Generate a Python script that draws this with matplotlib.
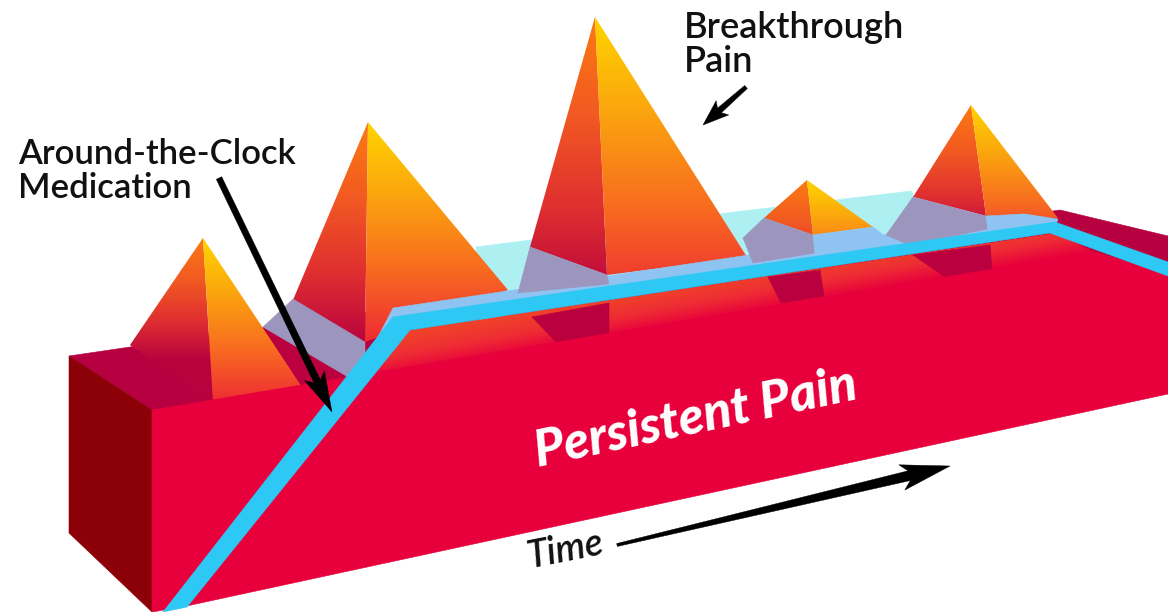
import numpy as np
import matplotlib
matplotlib.use("Agg")
import matplotlib.pyplot as plt
from matplotlib.colors import LinearSegmentedColormap
from matplotlib.patches import Polygon

W, H = 1168, 612

# box faces
side_face = [(69, 356), (152, 410), (152, 612), (69, 533)]
top_face = [(69, 356), (1060, 210), (1168, 236), (1168, 300), (152, 410)]
front_face = [(152, 410), (1095, 252), (1168, 274), (1168, 394), (182, 607), (152, 612)]

# medication surface
back_plane = [(476, 247), (530, 240), (726, 213), (911, 191), (930, 225), (480, 320)]
band_strip = [(362, 368), (393, 308), (1024, 214), (1058, 219), (1056, 224), (393, 318)]
band_line = [(163, 612), (393, 317), (1055, 222), (1168, 262), (1168, 276),
             (1050, 233), (410, 330), (187, 607)]
under_band = [(410, 330), (1055, 233), (1095, 252), (345, 378)]

lavender = [
    [(263, 327), (293, 299), (365, 342), (365, 357), (348, 377)],
    [(530, 247), (607, 275), (609, 284), (518, 293)],
    [(764, 218), (743, 238), (753, 263), (815, 253), (813, 235)],
    [(913, 197), (886, 235), (909, 245), (988, 229), (986, 216)],
]
pale_blue = [
    [(813, 235), (873, 227), (894, 243), (815, 255)],
    [(986, 216), (1024, 214), (1058, 220), (988, 230)],
]
shadow = [
    [(263, 327), (348, 377), (337, 385), (303, 388)],
    [(532, 317), (557, 343), (609, 333), (609, 303)],
    [(768, 277), (781, 303), (824, 296), (820, 270)],
    [(913, 255), (945, 277), (992, 269), (990, 245)],
]

# pyramids: apex, left corner, bottom of the ridge, right corner
apexes = [(203, 238), (368, 122), (595, 17), (807, 180), (971, 105)]
left_corners = [(130, 345), (293, 300), (530, 247), (764, 218), (913, 197)]
ridge_bottoms = [(213, 402), (365, 342), (607, 275), (813, 235), (986, 216)]
right_corners = [(303, 388), (508, 290), (747, 257), (873, 227), (1058, 218)]
# y where each face's colour ramp runs out
left_ends = [360, 345, 300, 300, 240]
right_ends = [402, 340, 300, 290, 250]

left_stops = ["#fb7a12", "#f25a22", "#e03030", "#b8023e"]
right_stops = ["#ffd400", "#fba50e", "#f86c20", "#ee2c34"]
under_stops = ["#f0402a", "#ee2c34", "#e8023c"]

text_color = "#111111"


def gradient_poly(ax, pts, stops, p0, p1, zorder):
    # linear gradient from p0 to p1, clipped to the polygon
    pts = np.array(pts, dtype=float)
    x0, y0 = np.floor(pts.min(axis=0))
    x1, y1 = np.ceil(pts.max(axis=0))
    xx, yy = np.meshgrid(np.arange(x0, x1 + 1), np.arange(y0, y1 + 1))
    dx, dy = p1[0] - p0[0], p1[1] - p0[1]
    t = ((xx - p0[0]) * dx + (yy - p0[1]) * dy) / (dx * dx + dy * dy)
    cmap = LinearSegmentedColormap.from_list("g", stops)
    im = ax.imshow(np.clip(t, 0, 1), cmap=cmap, vmin=0, vmax=1, extent=(x0, x1 + 1, y1 + 1, y0),
                   aspect="auto", zorder=zorder, interpolation="bilinear")
    patch = Polygon(pts, closed=True, transform=ax.transData, fc="none", ec="none")
    ax.add_patch(patch)
    im.set_clip_path(patch)


def flat_poly(ax, pts, color, zorder):
    ax.add_patch(Polygon(pts, closed=True, fc=color, ec=color, lw=0.4, zorder=zorder))


def tapered_arrow(ax, start, end, w0, w1, head_w, head_l, zorder=20):
    start, end = np.array(start, float), np.array(end, float)
    d = (end - start) / np.linalg.norm(end - start)
    n = np.array([-d[1], d[0]])
    neck = end - d * head_l
    pts = [start + n * w0 / 2, neck + n * w1 / 2, neck - d * head_l * 0.18 + n * head_w / 2, end,
           neck - d * head_l * 0.18 - n * head_w / 2, neck - n * w1 / 2, start - n * w0 / 2]
    ax.add_patch(Polygon(pts, closed=True, fc="black", ec="black", lw=0.3, zorder=zorder))


fig = plt.figure(figsize=(W / 100, H / 100), dpi=100)
ax = fig.add_axes([0, 0, 1, 1])

flat_poly(ax, top_face, "#b60040", 1)
flat_poly(ax, back_plane, "#aef0f2", 2)

for i in range(len(apexes)):
    a, l, r, c = apexes[i], left_corners[i], ridge_bottoms[i], right_corners[i]
    gradient_poly(ax, [a, l, r], left_stops, a, (a[0], left_ends[i]), 3)
    gradient_poly(ax, [a, r, c], right_stops, a, (a[0], right_ends[i]), 3)

gradient_poly(ax, under_band, under_stops, (702, 284), (708, 318), 4)
for s in shadow:
    flat_poly(ax, s, "#ba003e", 5)
flat_poly(ax, band_strip, "#8fc4f2", 6)
for p in lavender:
    flat_poly(ax, p, "#9c96be", 7)
for p in pale_blue:
    flat_poly(ax, p, "#8fc4f2", 7)

flat_poly(ax, side_face, "#8c0008", 8)
flat_poly(ax, front_face, "#e8003c", 8)
flat_poly(ax, band_line, "#2ec8f4", 9)

ax.text(18, 164, "Around-the-Clock", fontsize=25, family="Lato", weight="semibold", color=text_color, zorder=21)
ax.text(18, 198, "Medication", fontsize=25, family="Lato", weight="semibold", color=text_color, zorder=21)
ax.text(684, 38, "Breakthrough", fontsize=26, family="Lato", weight="semibold", color=text_color, zorder=21)
ax.text(684, 72, "Pain", fontsize=26, family="Lato", weight="semibold", color=text_color, zorder=21)
ax.text(538, 467, "Persistent Pain", fontsize=37, family="Lato", weight="black", style="italic", color="white",
        rotation=12, rotation_mode="anchor", zorder=21)
ax.text(530, 568, "Time", fontsize=27, family="Lato", style="italic", weight="semibold", color=text_color,
        rotation=11, rotation_mode="anchor", zorder=21)

tapered_arrow(ax, (219, 178), (332, 412), 6, 7, 22, 34)
tapered_arrow(ax, (746, 87), (703, 125), 4, 6, 19, 22)
tapered_arrow(ax, (617, 545), (950, 466), 3, 10, 26, 42)

ax.set_xlim(0, W)
ax.set_ylim(H, 0)
ax.axis("off")
fig.savefig("out.png", dpi=100, facecolor="white")
